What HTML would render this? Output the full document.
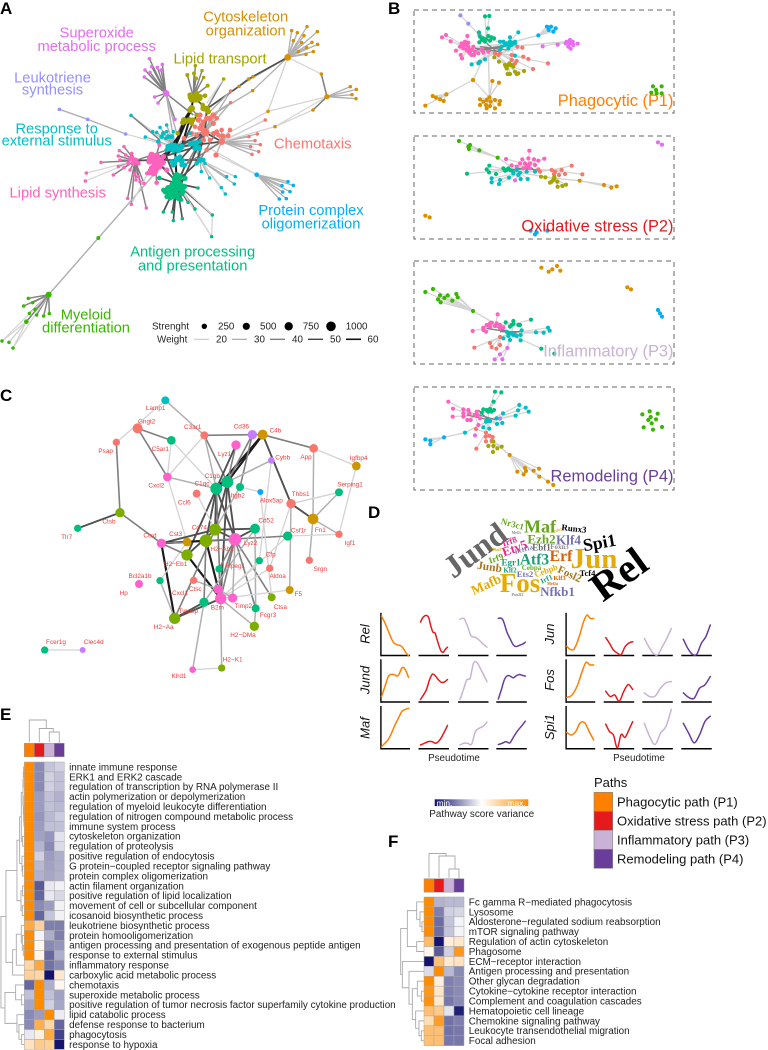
<!DOCTYPE html>
<html lang="en"><head><meta charset="utf-8"><title>Macrophage pathway figure</title>
<style>
html,body{margin:0;padding:0;background:#fff;width:768px;height:1050px;overflow:hidden}
svg{display:block;font-family:"Liberation Sans",sans-serif}
.pl{font-size:17px;font-weight:bold;fill:#000}
.a{font-size:14.7px;text-anchor:middle}
.b{font-size:16.4px;text-anchor:end}
.s{font-size:9.8px;fill:#222}
.r{font-size:13px;font-style:italic;text-anchor:middle;fill:#111}
.w{font-family:"Liberation Serif",serif;font-weight:bold;text-anchor:middle;dominant-baseline:central}
.h{font-size:9.9px;fill:#222}
.lg{font-size:13px;fill:#111}
</style></head><body>
<svg id="fig" xmlns="http://www.w3.org/2000/svg" width="768" height="1050" viewBox="0 0 768 1050">
<rect width="768" height="1050" fill="#fff"/>
<text class="pl" x="0" y="14">A</text>
<text class="pl" x="388" y="14">B</text>
<text class="pl" x="0" y="401">C</text>
<text class="pl" x="368" y="518">D</text>
<text class="pl" x="0" y="720">E</text>
<text class="pl" x="388" y="847">F</text>

<g id="netA"></g>
<g>
<text class="a" fill="#D89000" x="245.7" y="21.5">Cytoskeleton</text>
<text class="a" fill="#D89000" x="245.7" y="35.5">organization</text>
<text class="a" fill="#E76BF3" x="96.7" y="37.3">Superoxide</text>
<text class="a" fill="#E76BF3" x="96.7" y="51">metabolic process</text>
<text class="a" fill="#A3A500" x="220" y="63.5">Lipid transport</text>
<text class="a" fill="#9590FF" x="52.5" y="82.7">Leukotriene</text>
<text class="a" fill="#9590FF" x="52.5" y="94.5">synthesis</text>
<text class="a" fill="#00BFC4" x="56.7" y="133.5">Response to</text>
<text class="a" fill="#00BFC4" x="56.7" y="145.5">external stimulus</text>
<text class="a" fill="#F8766D" x="312.7" y="148.5">Chemotaxis</text>
<text class="a" fill="#FF62BC" x="57.7" y="197.7">Lipid synthesis</text>
<text class="a" fill="#00B0F6" x="311" y="215">Protein complex</text>
<text class="a" fill="#00B0F6" x="311" y="228.5">oligomerization</text>
<text class="a" fill="#00BF7D" x="192.7" y="256.7">Antigen processing</text>
<text class="a" fill="#00BF7D" x="192.7" y="270.5">and presentation</text>
<text class="a" fill="#39B600" x="86" y="319.5">Myeloid</text>
<text class="a" fill="#39B600" x="86" y="332.5">differentiation</text>
</g>
<g>
<text class="s" x="152" y="329.5">Strenght</text>
<circle cx="204.3" cy="326.3" r="2.7" fill="#000"/>
<circle cx="246.3" cy="326.3" r="3.6" fill="#000"/>
<circle cx="288.7" cy="326.3" r="4.2" fill="#000"/>
<circle cx="331" cy="326.3" r="4.8" fill="#000"/>
<text class="s" x="218" y="329.5">250</text>
<text class="s" x="260" y="329.5">500</text>
<text class="s" x="302.7" y="329.5">750</text>
<text class="s" x="345.7" y="329.5">1000</text>
<text class="s" x="157" y="342.5">Weight</text>
<line x1="194" x2="209" y1="339.3" y2="339.3" stroke="#c8c8c8" stroke-width="1.1"/>
<line x1="232" x2="247" y1="339.3" y2="339.3" stroke="#a8a8a8" stroke-width="1.2"/>
<line x1="270" x2="285" y1="339.3" y2="339.3" stroke="#777" stroke-width="1.3"/>
<line x1="308" x2="323" y1="339.3" y2="339.3" stroke="#444" stroke-width="1.4"/>
<line x1="346" x2="361" y1="339.3" y2="339.3" stroke="#111" stroke-width="1.6"/>
<text class="s" x="216" y="342.5">20</text>
<text class="s" x="254" y="342.5">30</text>
<text class="s" x="292" y="342.5">40</text>
<text class="s" x="330" y="342.5">50</text>
<text class="s" x="367.5" y="342.5">60</text>
</g>

<g id="netB"></g>
<g>
<text class="b" fill="#FF7F00" x="673.5" y="106">Phagocytic (P1)</text>
<text class="b" fill="#E41A1C" x="673.5" y="231.5">Oxidative stress (P2)</text>
<text class="b" fill="#CAB2D6" x="673.5" y="356.7">Inflammatory (P3)</text>
<text class="b" fill="#6A3D9A" x="673.5" y="481.7">Remodeling (P4)</text>
</g>

<g id="netC"></g>

<g>
<text class="w" font-size="32" fill="#666" transform="translate(475,550) rotate(-36)">Jund</text>
<text class="w" font-size="41" fill="#000" transform="translate(618.5,574) rotate(-36)">Rel</text>
<text class="w" font-size="29" fill="#E6AB02" transform="translate(594,559)">Jun</text>
<text class="w" font-size="27" fill="#E6AB02" transform="translate(520,583)">Fos</text>
<text class="w" font-size="18" fill="#66A61E" transform="translate(540,526.5)">Maf</text>
<text class="w" font-size="17.6" fill="#000" transform="translate(599.5,542.5) rotate(-10)">Spi1</text>
<text class="w" font-size="13" fill="#66A61E" transform="translate(541.5,539)">Ezh2</text>
<text class="w" font-size="13.2" fill="#7570B3" transform="translate(568.5,540)">Klf4</text>
<text class="w" font-size="8.8" fill="#000" transform="translate(574,528.5) rotate(6)">Runx3</text>
<text class="w" font-size="9" fill="#66A61E" transform="translate(512.5,524) rotate(15)">Nr3c1</text>
<text class="w" font-size="9" fill="#E7298A" transform="translate(509.5,541.5) rotate(-20)">Irf8</text>
<text class="w" font-size="13" fill="#E7298A" transform="translate(514.5,548) rotate(-20)">Etv5</text>
<text class="w" font-size="9" fill="#66A61E" transform="translate(496,558.5) rotate(-20)">Irf9</text>
<text class="w" font-size="6.5" fill="#7570B3" transform="translate(524,550) rotate(-15)">Bcl11a</text>
<text class="w" font-size="9" fill="#666" transform="translate(541.5,547.5)">Ebf1</text>
<text class="w" font-size="6.9" fill="#888" transform="translate(559.5,547.5)">Foxn3</text>
<text class="w" font-size="15.7" fill="#D95F02" transform="translate(561,556.5)">Erf</text>
<text class="w" font-size="15.5" fill="#1B9E77" transform="translate(534.5,560)">Atf3</text>
<text class="w" font-size="9" fill="#1B9E77" transform="translate(511,562.5)">Egr1</text>
<text class="w" font-size="11.5" fill="#A6761D" transform="translate(489.5,567.5) rotate(8)">Junb</text>
<text class="w" font-size="7" fill="#1B9E77" transform="translate(510,570.5)">Klf2</text>
<text class="w" font-size="7" fill="#66A61E" transform="translate(531.5,568)">Cebpa</text>
<text class="w" font-size="8.8" fill="#7570B3" transform="translate(525,574)">Ets2</text>
<text class="w" font-size="8.5" fill="#E6AB02" transform="translate(546,570.5) rotate(-20)">Cebpb</text>
<text class="w" font-size="11" fill="#A6761D" transform="translate(569.5,574.5) rotate(25)">Fosl2</text>
<text class="w" font-size="8.5" fill="#000" transform="translate(587.5,573)">Tcf4</text>
<text class="w" font-size="7.5" fill="#1B9E77" transform="translate(546.5,579) rotate(-25)">Irf1</text>
<text class="w" font-size="6.5" fill="#D95F02" transform="translate(559.5,578.5)">Klf3</text>
<text class="w" font-size="13.5" fill="#E6AB02" transform="translate(486,584.5) rotate(-25)">Mafb</text>
<text class="w" font-size="13" fill="#7570B3" transform="translate(557.5,591.5)">Nfkb1</text>
<text class="w" font-size="3.6" fill="#888" transform="translate(516.5,533)">Mef2c</text>
<text class="w" font-size="4" fill="#E6AB02" transform="translate(558,530) rotate(-20)">Nfe2</text>
<text class="w" font-size="4" fill="#E6AB02" transform="translate(496.5,549.5)">Nfat5</text>
<text class="w" font-size="4" fill="#888" transform="translate(517.5,594.5)">Pou2f2</text>
<text class="w" font-size="4" fill="#D95F02" transform="translate(552.5,583.5)">Mef2a</text>
</g>

<g id="lines"></g>
<g>
<text class="r" transform="translate(369.5,634) rotate(-90)">Rel</text>
<text class="r" transform="translate(369.5,680) rotate(-90)">Jund</text>
<text class="r" transform="translate(369.5,728) rotate(-90)">Maf</text>
<text class="r" transform="translate(554,634) rotate(-90)">Jun</text>
<text class="r" transform="translate(554,680) rotate(-90)">Fos</text>
<text class="r" transform="translate(554,727) rotate(-90)">Spi1</text>
<text x="454" y="761" text-anchor="middle" font-size="9.8" fill="#222">Pseudotime</text>
<text x="639" y="761" text-anchor="middle" font-size="9.8" fill="#222">Pseudotime</text>
</g>

<defs><linearGradient id="cb" x1="0" x2="1" y1="0" y2="0"><stop offset="0" stop-color="#14146e"/><stop offset=".5" stop-color="#fff"/><stop offset="1" stop-color="#FF8C00"/></linearGradient></defs>
<g>
<rect x="434.7" y="799.3" width="93.6" height="6.8" fill="url(#cb)"/>
<text x="436.5" y="806" font-size="8.4" fill="#fff">min.</text>
<text x="507.5" y="806" font-size="8.4" fill="#fff">max.</text>
<text x="481.7" y="817" text-anchor="middle" font-size="9.9" fill="#222">Pathway score variance</text>
</g>

<g>
<text class="lg" x="594" y="787">Paths</text>
<rect x="594" y="792.3" width="18.7" height="19" fill="#FF7F00" stroke="#888" stroke-width=".6"/>
<rect x="594" y="811.3" width="18.7" height="19" fill="#E41A1C" stroke="#888" stroke-width=".6"/>
<rect x="594" y="830.3" width="18.7" height="19" fill="#CAB2D6" stroke="#888" stroke-width=".6"/>
<rect x="594" y="849.3" width="18.7" height="19" fill="#6A3D9A" stroke="#888" stroke-width=".6"/>
<text class="lg" x="617" y="806.5">Phagocytic path (P1)</text>
<text class="lg" x="617" y="825.5">Oxidative stress path (P2)</text>
<text class="lg" x="617" y="844.5">Inflammatory path (P3)</text>
<text class="lg" x="617" y="863.5">Remodeling path (P4)</text>
</g>

<g id="heatE"></g>
<g id="heatF"></g>
</svg>

<script>
// ---------- shared palette ----------
const pathColors = ['#FF7F00', '#E41A1C', '#CAB2D6', '#6A3D9A'];
const cyto = '#D89000', magenta = '#E76BF3', olive = '#A3A500', salmon = '#F8766D', teal = '#00BFC4';
const pink = '#FF62BC', antigenGreen = '#00BF7D', myeloidGreen = '#39B600', lav = '#9590FF', blue = '#00B0F6';

// ---------- Panel A: network layout (layout units) ----------
const aCyto = [[863,172,10],[981,290,8],[875,92],[892,98],[921,80],[952,95],[912,107],[880,122],[905,128],[936,127],[953,133],[920,143],[895,155],[940,155],[918,163],[746,237],[759,230],[717,259],[758,272],[964,222],[1051,260],[1069,268],[1056,284],[1068,296],[939,330],[804,334],[825,380]];
const aMagenta = [[498,280,10],[448,176],[487,193],[455,200],[472,202],[435,210],[450,217],[483,210],[433,231],[464,291],[474,309],[525,358]];
const aOlive = [[580,290,10],[620,327,10],[575,325,10],[552,360,9],[568,360,9],[570,285,8],[590,280,8],[600,290,8],[615,287,7],[575,300,8],[585,300,8],[590,345,7],[575,370,7],[533,400,7],[608,315,7],[586,197],[562,225,6],[582,220,6],[606,212],[611,232],[588,235,6],[623,257,6],[671,237],[572,292,9],[585,290,9],[600,295,8],[590,300,8],[610,325,9],[625,335,8],[570,330,9],[560,365,8],[548,368,8],[578,360,8]];
const aSalmon = [[615,397,13],[665,425,10],[620,355,8],[600,345,8],[640,345,8],[650,355,7],[605,375,8],[585,380,7],[640,370,8],[665,390,7],[690,390,7],[685,407,7],[668,408,8],[610,420,8],[648,465,8],[620,450,7],[575,400,7],[552,415,7],[570,430,7],[692,273],[692,308],[796,360],[747,410],[772,402],[765,422],[781,434],[752,440],[776,455],[756,463],[595,360,8],[630,355,8],[610,365,7],[650,395,7],[655,405,7],[600,385,8],[590,405,7],[630,420,7],[640,400,7]];
const aResponse = [[525,442,13],[600,480,9],[530,475,8],[505,440,9],[540,445,9],[515,435,8],[500,450,7],[470,397],[458,395],[480,382],[500,375],[500,395],[520,395],[485,410,7],[497,415],[475,425,7],[436,411],[393,346],[515,485,7],[545,495,7],[540,470,7],[570,432,7],[590,440,8],[580,430,8],[600,425],[570,400],[604,515],[629,534],[664,563],[680,530],[706,530],[703,552],[676,582],[615,490],[525,490,7],[550,480],[510,445,10],[520,438,10],[530,445,11],[545,440,9],[535,450,9],[520,450,9],[578,430,9],[590,428,8],[598,445,8],[585,445,8],[530,480,8],[545,485,8],[520,495,8],[555,495,7],[610,480,7],[590,490,7],[490,400,7],[505,410,7],[515,410,7]];
const aLipid = [[465,480,13],[405,482,10],[460,470,10],[475,490,10],[490,470,8],[450,475,9],[470,505,9],[460,520,9],[390,478,6],[385,490,6],[372,440],[358,452],[355,468],[360,480],[377,465],[395,460],[410,480],[355,500],[372,503],[390,510],[405,520],[415,530],[420,545],[432,550],[402,525],[408,540],[470,548,7],[440,520],[303,487],[259,519],[256,543],[340,525],[383,595],[394,613],[439,624],[478,435,6],[455,465,10],[470,468,10],[482,480,10],[448,485,9],[465,495,10],[478,500,9],[455,505,9],[465,516,9],[448,518,8],[490,488,8],[500,510,8],[395,475,8],[415,490,7],[400,490,8]];
const aAntigen = [[530,550,11],[530,525,9],[525,545,9],[540,560,9],[515,560,9],[520,575,9],[530,585,9],[545,570,8],[510,580,8],[500,590,7],[490,570,7],[510,595,7],[535,545,8],[555,535,8],[478,534,7],[550,575,7],[520,550,8],[594,564],[564,607],[585,627],[637,645],[635,710],[490,636],[517,636],[520,662],[547,656],[545,600],[525,535,10],[538,530,10],[530,545,11],[518,555,10],[505,565,10],[540,555,10],[552,560,9],[530,565,11],[515,575,10],[545,580,9],[525,580,10],[505,580,9],[535,595,8],[495,575,8],[520,590,8]];
const aMyeloid = [[146,884,9],[85,895],[98,908],[71,918],[88,940],[105,928],[110,945],[131,948],[148,941],[79,965,7],[295,714,6],[6,1023],[27,1027],[39,1044]];
const aLeuko = [[178,328],[263,358],[377,402]];
const aProtein = [[770,524,7],[846,557],[864,545],[880,556],[848,576],[870,575],[838,597],[859,596]];
const aGroupColors = [cyto, magenta, olive, salmon, teal, pink, antigenGreen, myeloidGreen, lav, blue];
const aGroupNodes = [aCyto, aMagenta, aOlive, aSalmon, aResponse, aLipid, aAntigen, aMyeloid, aLeuko, aProtein];
const aGroupHubCount = [2, 1, 4, 2, 3, 2, 1, 1, 0, 1];
const aGroupWeight = [2, 3, 3, 2, 2, 3, 4, 3, 1, 2];
const aCrossEdges = [[863,172,746,237,4],[746,237,717,259,4],[717,259,620,327,4],[863,172,804,334,1],[863,172,964,222,1],[964,222,981,290,3],[981,290,804,334,1],[981,290,939,330,3],[939,330,825,380,1],[825,380,665,425,1],[804,334,665,410,1],[758,272,620,355,2],[692,273,615,350,2],[692,308,620,355,2],[671,237,620,310,1],[178,328,263,358,2],[263,358,377,402,2],[377,402,525,442,1],[393,346,480,420,3],[498,280,580,345,3],[498,280,525,442,2],[498,280,530,400,2],[295,714,146,884,2],[295,714,465,520,2],[146,884,79,965,3],[79,965,6,1023,1],[79,965,27,1027,1],[79,965,39,1044,1],[770,524,620,440,1],[770,524,650,465,1],[615,397,525,442,4],[575,325,525,442,5],[552,360,525,442,5],[620,327,615,397,4],[575,325,552,360,5],[525,442,465,480,5],[525,442,530,545,5],[465,480,530,545,4],[615,397,465,480,4],[600,480,465,480,4],[600,480,530,545,4],[665,425,525,442,4],[615,397,530,545,3],[665,425,615,397,4],[580,290,575,325,5],[580,290,620,327,4],[405,482,525,442,3],[405,482,465,480,4],[530,545,637,645,1],[637,645,635,710,1],[530,545,635,710,1],[600,480,664,563,1],[600,480,676,582,1],[600,480,706,530,1],[465,480,394,613,1],[665,425,796,360,1],[560,360,520,450,5],[568,360,545,440,5],[545,395,510,445,5],[590,345,540,450,4],[615,397,540,480,4],[665,425,555,495,3],[600,425,540,560,4],[555,495,530,565,4],[495,460,525,535,4],[480,495,520,440,5],[490,470,590,440,4],[615,397,590,490,4],[650,395,600,480,3]];

// ---------- Panel B: four path-specific subnetworks (layout units) ----------
const bColors = {ant:antigenGreen, lip:pink, res:teal, sal:salmon, oli:olive, cyt:cyto, blu:blue, mag:magenta, mye:myeloidGreen, leu:lav};
const bBoxTops = [10, 136, 261, 387];
const bRowOffsets = [0, 0, 250, 250];
const bPanel1 = [
 ['leu',[238,105],[[181,46],[205,71]]],
 ['ant',[258,118],[[255,49],[268,48],[264,85],[237,97],[240,110],[250,115],[265,108],[275,112],[245,120],[255,125],[270,122],[238,127],[282,115]]],
 ['lip',[205,145],[[126,112],[138,105],[152,124],[202,108],[168,152],[182,165],[186,175],[185,130],[195,125],[205,128],[180,140],[190,145],[205,155],[215,150],[225,155],[215,165],[235,160],[245,150],[220,140],[205,140],[195,135],[250,158],[265,155],[188,135],[198,130],[210,160],[222,165],[200,150]]],
 ['res',[325,130],[[355,97],[330,112],[345,125],[330,125],[320,130],[310,125],[335,135],[325,145],[305,140],[300,150],[345,130],[215,193],[235,190],[240,185],[255,178],[345,167],[300,125],[315,135],[338,128],[328,138]]],
 ['sal',[300,160],[[367,143],[352,140],[285,160],[295,165],[335,165],[370,170],[385,177],[335,180],[350,183],[444,190],[399,207],[345,190]]],
 ['oli',[325,195],[[283,172],[297,185],[315,195],[335,195],[320,205],[340,200],[345,215],[330,222],[350,222],[355,220],[372,213],[323,222],[328,190],[318,200]]],
 ['cyt',[268,292],[[219,240],[277,243],[297,248],[240,298],[250,305],[260,300],[272,305],[285,300],[300,303],[240,315],[258,315],[270,318],[285,325],[260,325],[298,313]]],
 ['cyt',[219,240],[[139,283]]],
 ['cyt',[139,283],[[98,288],[108,293],[120,298],[131,303],[76,317]]],
 ['blu',[415,106],[[441,80],[453,80],[446,90],[460,95],[467,85]]],
 ['mag',[500,125],[[428,139],[473,134],[510,120],[518,125],[510,130],[520,135],[533,131],[505,140],[512,146],[497,130]]],
 ['mye',null,[[759,259],[785,259],[768,270],[754,278],[785,280],[770,280]]]
];
const bPanel1Links = [[265,145,415,106],[265,145,500,125],[265,145,325,195],[265,145,268,292],[265,145,219,240],[277,243,268,292],[297,248,268,292],[265,145,205,145],[265,145,325,130],[300,160,205,145],[258,118,325,130],[205,145,325,130],[238,105,258,118]];
const bPanel1Core = [[230,150,330,135],[240,140,320,150],[250,150,310,140],[260,130,290,155],[225,145,300,155]];
const bPanel2 = [
 ['mye',[293,473],[[177,423],[210,435],[205,440],[207,447],[238,451]]],
 ['ant',[320,510],[[201,521],[268,497],[260,508],[267,517],[288,522],[310,505],[330,510],[315,512],[335,512],[325,505]]],
 ['lip',[385,495],[[388,452],[318,477],[367,478],[385,475],[402,478],[415,482],[433,476],[375,490],[390,490],[380,500],[390,505],[360,490],[335,496],[370,505],[350,500],[405,495]]],
 ['res',[360,518],[[275,535],[275,547],[297,552],[300,540],[327,533],[355,525],[380,515],[362,537],[383,537],[405,515],[340,520],[350,510]]],
 ['mag',[345,541],[]],
 ['mag',null,[[774,427],[786,434]]],
 ['sal',[455,510],[[415,508],[465,515],[485,510],[515,497],[547,523],[477,525],[495,522],[420,515],[462,522]]],
 ['oli',[463,535],[[423,530],[436,532],[460,540],[455,545],[472,545],[463,530],[473,560],[487,558],[498,554],[450,548]]],
 ['cyt',[539,542],[[612,555],[634,563],[650,559]]],
 ['cyt',null,[[76,647],[89,652]]],
 ['blu',null,[[392,692],[405,703],[410,697],[442,692]]]
];
const bPanel2Links = [[360,518,293,473],[360,518,320,510],[360,518,385,495],[360,518,455,510],[360,518,463,535],[463,535,539,542],[320,510,385,495],[345,541,360,518]];
const bPanel2Core = [[320,510,400,505],[350,505,420,510],[340,515,390,495]];
const bPanel3 = [
 ['mye',[219,183],[[76,126],[99,117],[120,136],[143,136],[133,144],[114,148],[122,157],[157,152],[169,132],[173,142]]],
 ['cyt',null,[[424,53],[446,65],[457,58],[471,48],[481,62],[682,112],[693,118]]],
 ['blu',null,[[774,180],[780,190],[786,200]]],
 ['lip',[285,228],[[293,193],[218,243],[250,233],[260,225],[270,220],[290,220],[300,225],[310,232],[250,240],[258,245],[270,230],[300,235],[275,218]]],
 ['ant',[340,222],[[393,209],[317,217],[340,213],[335,225],[355,225],[330,230],[360,225]]],
 ['ant',[325,250],[[424,296]]],
 ['ant',null,[[463,311]]],
 ['res',[335,250],[[320,245],[340,255],[310,265],[330,270],[350,258],[362,255],[365,241],[362,271],[408,247],[431,248],[444,233],[449,242],[325,258]]],
 ['sal',[300,261],[[270,279],[223,293],[275,291],[289,296],[300,285]]],
 ['mag',[322,294],[[300,313],[284,328],[307,328]]]
];
const bPanel3Links = [[335,250,219,183],[335,250,285,228],[335,250,340,222],[285,228,340,222],[300,261,335,250],[322,294,335,250],[285,228,325,250],[300,240,340,250]];
const bPanel3Core = [[260,235,350,250],[290,230,340,255],[300,245,360,245]];
const bPanel4 = [
 ['ant',[265,485],[[285,425],[304,427],[281,455],[250,478],[260,480],[270,477],[282,480],[245,488],[275,485]]],
 ['lip',[225,495],[[145,455],[159,476],[158,500],[190,478],[205,480],[190,490],[190,500],[208,490],[230,485],[232,495],[202,510],[212,510],[235,525],[240,505]]],
 ['res',[265,513],[[358,465],[377,473],[354,481],[386,485],[347,497],[309,490],[291,522],[307,519],[270,513],[258,515],[262,510],[250,532],[268,536],[195,548],[290,505]]],
 ['leu',null,[[300,506]]],
 ['sal',[258,548],[[228,537],[257,560],[268,557],[278,561],[258,574],[275,573],[229,596]]],
 ['mag',null,[[225,556]]],
 ['oli',[280,574],[[265,588],[280,588],[292,595],[305,590],[279,606]]],
 ['blu',[132,562],[[76,568],[91,572],[91,583]]],
 ['cyt',[329,615],[[352,665],[375,654],[378,663],[371,673],[401,662],[417,656],[418,680],[444,695],[460,705]]],
 ['mye',null,[[749,484],[727,493],[773,491],[768,508],[752,501],[745,510],[755,520],[731,532],[759,539],[786,531]]]
];
const bPanel4Links = [[265,513,265,485],[265,513,225,495],[225,495,265,485],[265,513,258,548],[258,548,280,574],[280,574,329,615],[195,548,132,562],[265,513,195,548]];
const bPanel4Core = [[220,490,290,510],[235,480,270,515],[200,495,270,510]];
const bPanels = [bPanel1, bPanel2, bPanel3, bPanel4];
const bLinks = [bPanel1Links, bPanel2Links, bPanel3Links, bPanel4Links];
const bCores = [bPanel1Core, bPanel2Core, bPanel3Core, bPanel4Core];

// ---------- Panel C: gene network (name, layout x, y, size, colour, label x, y) ----------
const cGreen = '#00BF7D', cOlive = '#7CAE00', cGold = '#CD9600', cPurple = '#C77CFF', cPink = '#FF61CC', cBlue = '#00A9FF', cSalmon = '#F8766D', cTeal = '#00BFC4';
const cNodes = [
 ['Lamp1',496,61,12,cTeal,467,83],['Gngt2',413,145,15,cSalmon,440,124],['Psap',349,187,11,cSalmon,317,213],['C5ar1',514,181,13,cGreen,481,207],
 ['C3ar1',613,166,12,cSalmon,578,141],['Cd36',757,164,14,cPurple,724,139],['C4b',788,164,15,cGold,826,151],['App',941,205,13,cSalmon,918,231],
 ['Igfbp4',1069,258,13,cGold,1076,234],['Lyz1',708,195,14,cPink,674,221],['Cybb',814,241,10,cPurple,848,232],['Cxcl2',502,291,13,cPink,469,316],
 ['C1qb',682,306,18,cGreen,637,288],['C1qc',649,326,18,cGreen,606,310],['Ccl6',590,341,12,cSalmon,553,367],['Itgb2',720,321,12,cGreen,713,346],
 ['Alox5ap',781,336,9,cBlue,814,361],['Serping1',1017,337,12,cGreen,1050,313],['Thbs1',873,371,14,cSalmon,902,342],['Fn1',939,417,16,cGold,961,449],
 ['Ctsb',360,398,14,cOlive,327,424],['Tlr7',233,445,11,cGreen,200,470],['Cd52',765,446,15,cGreen,798,421],['Cd74',645,449,18,cOlive,598,442],
 ['Csf1r',863,468,14,cGreen,896,451],['Igf1',1017,463,11,cSalmon,1050,488],['Lyz2',705,478,19,cPink,752,488],['Ctsd',484,490,14,cPink,450,466],
 ['Cst3',561,486,13,cGold,527,461],['H2\u2212Ab1',618,482,19,cOlive,666,507],['H2\u2212Eb1',561,525,17,cOlive,527,551],['Cfp',778,542,11,cGreen,812,523],
 ['Srgn',928,541,11,cSalmon,961,567],['Mpeg1',657,567,11,cGreen,706,558],['Aldoa',809,565,11,cSalmon,833,587],['Hp',417,612,12,cPink,371,638],
 ['Bcl2a1b',480,602,11,cGreen,420,587],['Cxcl1',581,601,11,cSalmon,540,638],['Ctsc',655,628,14,cPink,586,627],['Timp2',698,654,14,cPink,730,678],
 ['B2m',662,656,17,cPink,652,682],['Tyrobp',612,667,14,cGreen,565,692],['Ctsa',815,652,12,cOlive,841,680],['F5',869,630,12,cGold,895,641],
 ['Fcgr3',767,685,12,cGreen,804,705],['H2\u2212DMa',763,739,14,cOlive,729,765],['H2\u2212Aa',524,715,17,cOlive,491,741],['H2\u2212K1',665,864,11,cOlive,698,838],
 ['Klrd1',578,869,10,cPink,537,887],['Fcer1g',134,810,11,cGreen,168,786],['Clec4d',248,810,9,cPurple,281,785]
];
const cEdges = [
 ['Lamp1','Psap',1],['Lamp1','C3ar1',2],['Gngt2','C5ar1',3],['Gngt2','Cxcl2',3],['Psap','Ctsb',3],['Ctsb','Tlr7',4],['Ctsb','Ctsd',3],['C5ar1','Cxcl2',1],['C5ar1','C1qc',1],
 ['C3ar1','Cd36',3],['Cd36','C4b',3],['C4b','App',3],['App','Igfbp4',1],['App','Fn1',2],['Igfbp4','Igf1',1],['C4b','Thbs1',4],['C4b','C1qb',5],['C4b','C1qc',5],
 ['Thbs1','Fn1',4],['Fn1','Srgn',2],['Fn1','Igf1',2],['Fn1','Serping1',2],['Thbs1','Serping1',1],['Thbs1','F5',2],['Thbs1','Aldoa',1],['Cxcl2','C3ar1',1],['Cxcl2','C1qc',2],['Cxcl2','Cst3',1],
 ['C3ar1','C1qb',3],['C3ar1','C1qc',2],['Lyz1','C1qc',4],['Lyz1','C1qb',3],['Cd36','C1qb',3],['Cd36','Itgb2',3],['Cybb','C1qb',2],['Itgb2','Alox5ap',1],['C1qb','Lyz2',4],['C1qc','Lyz2',4],['C1qb','C1qc',4],
 ['C1qc','Cd74',4],['C1qb','Cd74',4],['C1qc','H2\u2212Ab1',4],['C1qc','H2\u2212Eb1',4],['C1qb','B2m',4],['C1qc','B2m',3],['Cd74','Lyz2',4],['Lyz2','Cd52',4],['Cd74','Cd52',4],
 ['Ctsd','Lyz2',4],['Ctsd','Cd74',4],['Ctsd','H2\u2212Ab1',5],['Ctsd','H2\u2212Aa',5],['Ctsd','Cst3',3],['H2\u2212Ab1','B2m',5],['H2\u2212Eb1','B2m',5],['H2\u2212Aa','B2m',4],['H2\u2212Aa','Tyrobp',4],['H2\u2212Aa','Cd74',3],
 ['H2\u2212Ab1','Csf1r',3],['Csf1r','Igf1',1],['Lyz2','Ctsa',3],['Lyz2','B2m',3],['Lyz2','Fcgr3',3],['Lyz2','Ctsc',3],['Cd52','Fcgr3',2],['Fcgr3','H2\u2212DMa',2],['B2m','H2\u2212DMa',2],['B2m','F5',1],
 ['Tyrobp','Klrd1',2],['B2m','H2\u2212K1',2],['Klrd1','H2\u2212K1',1],['Fcer1g','Clec4d',1],['Bcl2a1b','H2\u2212Aa',2],['Cst3','Bcl2a1b',1],['Mpeg1','Lyz2',3],['Mpeg1','B2m',3],['Cd52','Tyrobp',2],['Aldoa','B2m',1],['Cfp','B2m',1],['Csf1r','B2m',1],
 ['Itgb2','Cd74',2],['Cybb','Cfp',1],['Alox5ap','Ctsa',1],['Ccl6','Cd74',1],['Ctsd','H2\u2212Eb1',3],['Cxcl1','Ctsc',2],['H2\u2212Eb1','Cd74',4],['Timp2','Lyz2',2],['Timp2','Ctsc',2],['H2\u2212Ab1','Tyrobp',3]
];

// ---------- Panel D: pseudotime expression, one array per path (P1..P4) ----------
const rel = [[.94,.85,.74,.62,.5,.38,.3,.27,.25,.24,.2,.13,.05,0],[.8,.9,.95,.96,.9,.7,.56,.54,.38,.22,.1,.08,.15,.2],[.87,.89,.88,.78,.65,.5,.45,.44,.42,.38,.33,.28,.24,.2],[.89,.9,.87,.75,.58,.47,.37,.27,.22,.22,.24,.26,.28,.32]];
const jund = [[.13,.29,.45,.61,.66,.66,.65,.62,.69,.81,.82,.73,.59],[.06,.17,.3,.53,.67,.62,.53,.47,.48,.54],[.06,.29,.53,.57,.93,.95,.81,.65,.49],[.07,.29,.53,.63,.62,.58,.63,.66,.64,.62]];
const maf = [[.05,.13,.22,.38,.57,.73,.89,.94,.97],[.09,.13,.17,.17,.13,.21,.37,.56],[.09,.13,.13,.11,.41,.49,.54,.64],[.1,.13,.17,.14,.29,.43,.54,.66]];
const jun = [[.22,.15,.14,.29,.53,.81,.97,.89,.89],[.43,.29,.13,.06,.02,.21,.3,.33],[.41,.21,.05,.02,.21,.41,.65],[.39,.17,.03,.03,.29,.45,.73]];
const fos = [[.11,.14,.25,.45,.73,.95,.89,.89],[.26,.13,.17,.02,.25,.42,.3],[.22,.13,.14,.33,.46,.49],[.22,.11,.09,.33,.41,.61]];
const spi1 = [[.39,.33,.41,.62,.62,.41,.21],[.59,.41,.33,.02,.34,.27,.45,.65],[.61,.29,.1,.37,.53,.94],[.61,.37,.14,.33,.65,.78]];
const leftGenes = [rel, jund, maf];
const rightGenes = [jun, fos, spi1];

// ---------- Panels E & F: heatmaps ----------
const eLabels = ['innate immune response','ERK1 and ERK2 cascade','regulation of transcription by RNA polymerase II','actin polymerization or depolymerization','regulation of myeloid leukocyte differentiation','regulation of nitrogen compound metabolic process','immune system process','cytoskeleton organization','regulation of proteolysis','positive regulation of endocytosis','G protein\u2212coupled receptor signaling pathway','protein complex oligomerization','actin filament organization','positive regulation of lipid localization','movement of cell or subcellular component','icosanoid biosynthetic process','leukotriene biosynthetic process','protein homooligomerization','antigen processing and presentation of exogenous peptide antigen','response to external stimulus','inflammatory response','carboxylic acid metabolic process','chemotaxis','superoxide metabolic process','positive regulation of tumor necrosis factor superfamily cytokine production','lipid catabolic process','defense response to bacterium','phagocytosis','response to hypoxia'];
const eValues = [[1,-.5,-.25,-.2],[1,-.5,-.2,-.27],[1,-.5,-.2,-.27],[1,-.42,-.27,-.33],[1,-.42,-.27,-.3],[1,-.45,-.3,-.22],[1,-.42,-.27,-.27],[1,-.4,-.45,-.12],[1,-.32,-.5,-.15],[1,-.2,-.42,-.35],[1,-.3,-.4,-.35],[1,-.33,-.38,-.33],[1,-.7,-.1,-.06],[1,-.65,-.1,-.17],[1,-.5,-.42,-.06],[1,-.65,-.25,-.06],[.75,.4,-.55,-.55],[1,-.05,-.35,-.55],[1,.06,-.5,-.45],[1,.1,-.65,-.35],[.35,.75,-.6,-.5],[.4,.35,-1,.2],[-.65,1,-.35,.06],[-.27,1,-.27,-.4],[-.38,1,-.2,-.38],[-.5,-.42,1,-.08],[-.5,.7,.35,-.65],[-.1,.12,.75,-.8],[.25,.45,.42,-1]];
const eTree = [70,[55,[22,[14,[9,[4,[3,[2,0,1],2],[3,3,[2,4,[1,5,6]]]],[5,7,8]],[7,9,[5,10,11]]],[10,[5,12,13],[6,14,15]]],[35,[24,[9,16,[6,17,[3,18,19]]],20],21]],[58,[26,22,[8,23,24]],[22,25,[16,26,[8,27,28]]]]];
const fLabels = ['Fc gamma R\u2212mediated phagocytosis','Lysosome','Aldosterone\u2212regulated sodium reabsorption','mTOR signaling pathway','Regulation of actin cytoskeleton','Phagosome','ECM\u2212receptor interaction','Antigen processing and presentation','Other glycan degradation','Cytokine\u2212cytokine receptor interaction','Complement and coagulation cascades','Hematopoietic cell lineage','Chemokine signaling pathway','Leukocyte transendothelial migration','Focal adhesion'];
const fValues = [[1,-.32,-.3,-.3],[1,-.55,-.2,-.17],[1,-.62,-.25,-.05],[1,-.62,-.25,-.05],[.6,-1,.15,.2],[.07,-.7,-.2,.9],[-1,.55,.2,.25],[-.15,1,-.3,-.5],[1,.15,-.55,-.5],[.9,.22,-.55,-.5],[.95,.2,-.58,-.5],[.55,.45,-.12,-.95],[.3,.85,-.6,-.55],[.55,.55,-.6,-.58],[.55,.55,-.58,-.58]];
const fTree = [70,[50,[22,0,[12,1,[6,2,3]]],[22,4,5]],[65,6,[45,7,[35,[20,8,[8,9,10]],[25,11,[15,12,[8,13,14]]]]]]];

// ---------- helpers ----------
const NS = 'http://www.w3.org/2000/svg';
function mk(tag, attrs, parent) {
  const el = document.createElementNS(NS, tag);
  for (const k in attrs) el.setAttribute(k, attrs[k]);
  parent.appendChild(el);
  return el;
}
function edgeStyle(w) {
  return [null, ['#d4d4d4', 1], ['#b0b0b0', 1.1], ['#808080', 1.2], ['#505050', 1.4], ['#1c1c1c', 1.6]][w];
}
function drawEdge(parent, x1, y1, x2, y2, w, widthScale) {
  const st = edgeStyle(w);
  const el = mk('line', {x1: x1, y1: y1, x2: x2, y2: y2, stroke: st[0], 'stroke-width': st[1] * widthScale}, parent);
  
  
  return el;
}
function drawNode(parent, x, y, r, fill) {
  const el = mk('circle', {cx: x, cy: y, r: r, fill: fill}, parent);
  
  
  return el;
}

// ---------- draw panel A ----------
(function () {
  const g = document.getElementById('netA');
  const ax = v => v / 3, ay = v => v / 3;
  const edges = mk('g', {}, g);
  
  
  const nodes = mk('g', {}, g);
  
  
  aGroupNodes.forEach((pts, gi) => {
    const hubs = pts.slice(0, aGroupHubCount[gi]);
    pts.forEach((p, i) => {
      if (i < hubs.length || !hubs.length) return;
      let best = hubs[0], bd = 1e12;
      hubs.forEach(h => { const d = (h[0] - p[0]) ** 2 + (h[1] - p[1]) ** 2; if (d < bd) { bd = d; best = h; } });
      const far = Math.sqrt(bd) > 150;
      drawEdge(edges, ax(best[0]), ay(best[1]), ax(p[0]), ay(p[1]), far ? 1 : aGroupWeight[gi], 1.2);
    });
  });
  aCrossEdges.forEach(e => drawEdge(edges, ax(e[0]), ay(e[1]), ax(e[2]), ay(e[3]), e[4], 1.25));
  aGroupNodes.forEach((pts, gi) => {
    pts.forEach(p => drawNode(nodes, ax(p[0]), ay(p[1]), (p[2] || 5.3) / 3, aGroupColors[gi]));
  });
})();

// ---------- draw panel B ----------
(function () {
  const g = document.getElementById('netB');
  const bx = v => v / 3 + 400;
  bPanels.forEach((groups, i) => {
    const by = v => v / 3 + bRowOffsets[i];
    const box = mk('rect', {x: 414, y: bBoxTops[i], width: 260, height: 103, fill: 'none', stroke: '#666', 'stroke-width': 1, 'stroke-dasharray': '5 4'}, g);
    
    
    const edges = mk('g', {}, g);
    
    
    bLinks[i].forEach(l => drawEdge(edges, bx(l[0]), by(l[1]), bx(l[2]), by(l[3]), 1, 1.4));
    groups.forEach(gr => {
      const hub = gr[1];
      if (hub) gr[2].forEach(p => drawEdge(edges, bx(hub[0]), by(hub[1]), bx(p[0]), by(p[1]), 1, 1.2));
    });
    bCores[i].forEach(l => drawEdge(edges, bx(l[0]), by(l[1]), bx(l[2]), by(l[3]), 3, 1.1));
    groups.forEach(gr => {
      const col = bColors[gr[0]];
      if (gr[1] && gr[1].length) drawNode(g, bx(gr[1][0]), by(gr[1][1]), 2.1, col);
      gr[2].forEach(p => drawNode(g, bx(p[0]), by(p[1]), 2.1, col));
    });
  });
})();

// ---------- draw panel C ----------
(function () {
  const g = document.getElementById('netC');
  const cx = v => v / 3, cy = v => v / 3 + 380;
  const byName = {};
  cNodes.forEach(n => { byName[n[0]] = n; });
  cEdges.forEach(e => {
    const a = byName[e[0]], b = byName[e[1]];
    drawEdge(g, cx(a[1]), cy(a[2]), cx(b[1]), cy(b[2]), e[2], 1.35);
  });
  cNodes.forEach(n => drawNode(g, cx(n[1]), cy(n[2]), n[3] / 3, n[4]));
  cNodes.forEach(n => {
    const t = mk('text', {x: cx(n[5]), y: cy(n[6]) + 2.2, 'text-anchor': 'middle', 'font-size': 6.4, fill: '#F03B3B'}, g);
    t.textContent = n[0];
    
    
  });
})();

// ---------- draw panel D line charts ----------
(function () {
  const g = document.getElementById('lines');
  const leftStarts = [381.5, 420.5, 460, 498.3];
  const rightStarts = [566.7, 605.7, 644.3, 683.3];
  const baselines = [655.5, 702, 748.7];
  const H = 41.7, W = 27;
  function smooth(pts) {
    let d = 'M' + pts[0][0] + ' ' + pts[0][1];
    for (let i = 0; i < pts.length - 1; i++) {
      const p0 = pts[Math.max(i - 1, 0)], p1 = pts[i], p2 = pts[i + 1], p3 = pts[Math.min(i + 2, pts.length - 1)];
      d += ' C' + (p1[0] + (p2[0] - p0[0]) / 6) + ' ' + (p1[1] + (p2[1] - p0[1]) / 6) + ' ' + (p2[0] - (p3[0] - p1[0]) / 6) + ' ' + (p2[1] - (p3[1] - p1[1]) / 6) + ' ' + p2[0] + ' ' + p2[1];
    }
    return d;
  }
  function drawSet(genes, starts) {
    genes.forEach((paths, row) => {
      const base = baselines[row];
      const yAxis = mk('line', {x1: starts[0] - .6, x2: starts[0] - .6, y1: base - H - 1, y2: base + .7, stroke: '#000', 'stroke-width': 1.4}, g);
      
      
      paths.forEach((vals, col) => {
        const x0 = starts[col];
        const xAxis = mk('line', {x1: x0 - (col ? 2 : 1), x2: x0 + W + 1.5, y1: base, y2: base, stroke: '#000', 'stroke-width': 1.5}, g);
        
        
        const sx = i => x0 + W * i / (vals.length - 1);
        const sy = v => base - v * H;
        const pts = vals.map((v, i) => [sx(i), sy(v)]);
        const p = mk('path', {d: smooth(pts), fill: 'none', stroke: pathColors[col], 'stroke-width': 1.5, 'stroke-linejoin': 'round', 'stroke-linecap': 'round'}, g);
        
        
      });
    });
  }
  drawSet(leftGenes, leftStarts);
  drawSet(rightGenes, rightStarts);
})();

// ---------- draw heatmaps ----------
function heatColor(v) {
  const mix = (a, b, t) => Math.round(a + (b - a) * t);
  const c = v < 0 ? [20, 20, 110] : [255, 140, 0];
  const t = Math.min(1, Math.abs(v));
  return 'rgb(' + mix(255, c[0], t) + ',' + mix(255, c[1], t) + ',' + mix(255, c[2], t) + ')';
}
function drawHeat(gId, labels, values, tree, x0, top, annoTop, topDendro) {
  const g = document.getElementById(gId);
  const cw = 10, rh = 9.91;
  const ch = v => top + rh * (v + .5);
  const stroke = '#aaa';
  function seg(d) {
    const p = mk('path', {d: d, fill: 'none', stroke: stroke, 'stroke-width': .9}, g);
    
    
  }
  function walk(n) {
    if (typeof n === 'number') return {x: x0, y: ch(n)};
    const x = x0 - n[0] / 3, a = walk(n[1]), b = walk(n[2]);
    seg('M' + a.x + ' ' + a.y + 'H' + x + 'V' + b.y + 'H' + b.x);
    return {x: x, y: (a.y + b.y) / 2};
  }
  walk(tree);
  const colC = i => x0 + cw * (i + .5);
  topDendro.forEach(d => seg('M' + colC(d[0]) + ' ' + (annoTop - 1) + 'V' + d[2] + 'H' + (typeof d[1] === 'number' ? colC(d[1]) + d[4] : d[1]) + 'V' + d[3]));
  pathColors.forEach((c, i) => {
    const r = mk('rect', {x: x0 + cw * i, y: annoTop, width: cw, height: 13.5, fill: c, stroke: '#999', 'stroke-width': .5}, g);
    
    
  });
  values.forEach((row, ri) => {
    row.forEach((v, ci) => {
      const r = mk('rect', {x: x0 + cw * ci, y: top + rh * ri, width: cw, height: rh, fill: heatColor(v), stroke: '#a8a8a8', 'stroke-width': .5}, g);
      
      
    });
    const t = mk('text', {x: x0 + cw * 4 + 4.8, y: top + rh * ri + rh / 2 + 3.4, class: 'h'}, g);
    t.textContent = labels[ri];
    
    
  });
}
drawHeat('heatE', eLabels, eValues, eTree, 24.3, 762, 743.3, [[0, 1, 720, 728, 7], [1, 2, 728.5, 732, 4], [2, 3, 732, 743, 0]]);
drawHeat('heatF', fLabels, fValues, fTree, 424, 897, 878.7, [[0, 1, 853.5, 856, 7], [1, 2, 856, 869, 6], [2, 3, 869, 879, 0]]);
</script>
</body></html>
